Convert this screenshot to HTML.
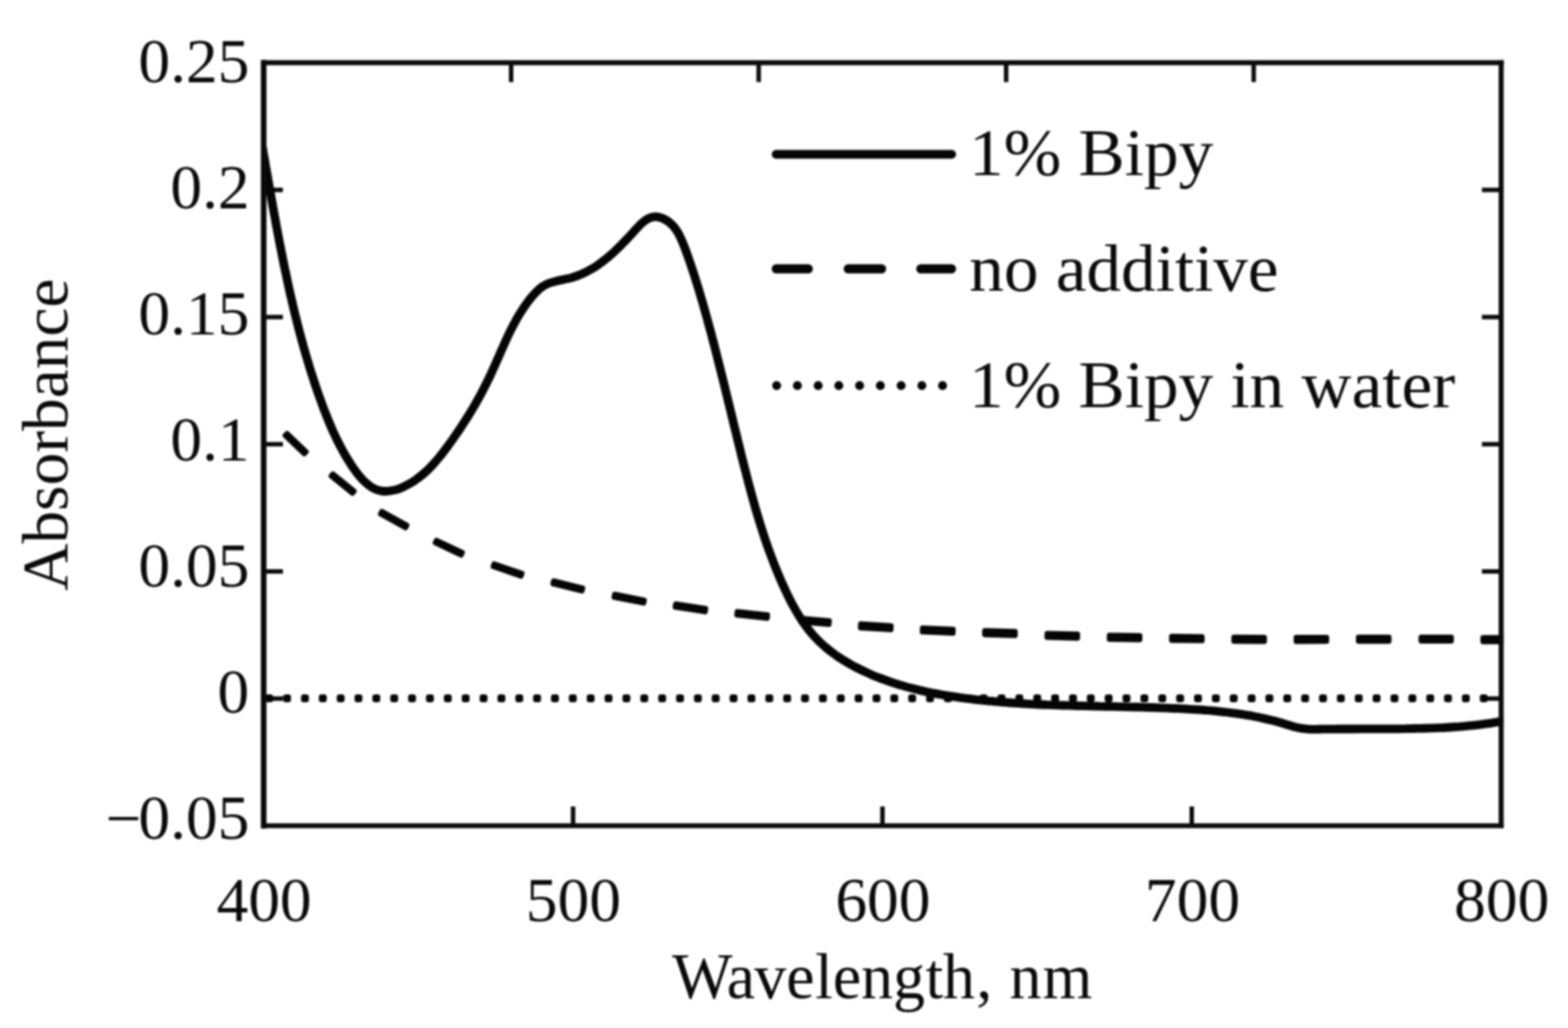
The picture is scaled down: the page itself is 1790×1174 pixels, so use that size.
<!DOCTYPE html>
<html lang="en"><head><meta charset="utf-8"><title>Absorbance vs Wavelength</title>
<style>
html,body{margin:0;padding:0;background:#fff;}
body{width:1790px;height:1174px;overflow:hidden;position:relative;}
svg{position:absolute;left:0;top:0;display:block;filter:blur(0.8px);}
text{font-family:"Liberation Serif","DejaVu Serif",serif;fill:#0a0a0a;}
.tk{font-size:72.4px;}
.wl{font-size:73px;}
.ab{font-size:74.7px;}
.lg{font-size:79px;}
</style></head><body>
<svg width="1790" height="1174" viewBox="0 0 1790 1174">
<rect x="0" y="0" width="1790" height="1174" fill="#ffffff"/>
<g stroke="#0a0a0a" stroke-width="5.1" fill="none">
<line x1="301.0" y1="216.9" x2="323.0" y2="216.9"/>
<line x1="1691.7" y1="216.9" x2="1713.7" y2="216.9"/>
<line x1="301.0" y1="362.1" x2="323.0" y2="362.1"/>
<line x1="1691.7" y1="362.1" x2="1713.7" y2="362.1"/>
<line x1="301.0" y1="507.3" x2="323.0" y2="507.3"/>
<line x1="1691.7" y1="507.3" x2="1713.7" y2="507.3"/>
<line x1="301.0" y1="652.6" x2="323.0" y2="652.6"/>
<line x1="1691.7" y1="652.6" x2="1713.7" y2="652.6"/>
<line x1="301.0" y1="797.8" x2="323.0" y2="797.8"/>
<line x1="1691.7" y1="797.8" x2="1713.7" y2="797.8"/>
<line x1="654.2" y1="921.0" x2="654.2" y2="943.0"/>
<line x1="1007.4" y1="921.0" x2="1007.4" y2="943.0"/>
<line x1="1360.5" y1="921.0" x2="1360.5" y2="943.0"/>
<line x1="583.5" y1="71.7" x2="583.5" y2="93.7"/>
<line x1="866.1" y1="71.7" x2="866.1" y2="93.7"/>
<line x1="1148.6" y1="71.7" x2="1148.6" y2="93.7"/>
<line x1="1431.2" y1="71.7" x2="1431.2" y2="93.7"/>
</g>
<clipPath id="pc"><rect x="298.5" y="0" width="1417.7" height="1174"/></clipPath>
<g clip-path="url(#pc)" fill="none" stroke="#050505" stroke-linecap="round" stroke-linejoin="round">
<g fill="#050505" stroke="none">
<rect x="302.8" y="793.0" width="9.0" height="9.0" rx="3"/>
<rect x="323.2" y="793.0" width="9.0" height="9.0" rx="3"/>
<rect x="343.6" y="793.0" width="9.0" height="9.0" rx="3"/>
<rect x="364.0" y="793.0" width="9.0" height="9.0" rx="3"/>
<rect x="384.4" y="793.0" width="9.0" height="9.0" rx="3"/>
<rect x="404.7" y="793.0" width="9.0" height="9.0" rx="3"/>
<rect x="425.1" y="793.0" width="9.0" height="9.0" rx="3"/>
<rect x="445.5" y="793.0" width="9.0" height="9.0" rx="3"/>
<rect x="465.9" y="793.0" width="9.0" height="9.0" rx="3"/>
<rect x="486.3" y="793.0" width="9.0" height="9.0" rx="3"/>
<rect x="506.7" y="793.0" width="9.0" height="9.0" rx="3"/>
<rect x="527.1" y="793.0" width="9.0" height="9.0" rx="3"/>
<rect x="547.5" y="793.0" width="9.0" height="9.0" rx="3"/>
<rect x="567.9" y="793.0" width="9.0" height="9.0" rx="3"/>
<rect x="588.3" y="793.0" width="9.0" height="9.0" rx="3"/>
<rect x="608.6" y="793.0" width="9.0" height="9.0" rx="3"/>
<rect x="629.0" y="793.0" width="9.0" height="9.0" rx="3"/>
<rect x="649.4" y="793.0" width="9.0" height="9.0" rx="3"/>
<rect x="669.8" y="793.0" width="9.0" height="9.0" rx="3"/>
<rect x="690.2" y="793.0" width="9.0" height="9.0" rx="3"/>
<rect x="710.6" y="793.0" width="9.0" height="9.0" rx="3"/>
<rect x="731.0" y="793.0" width="9.0" height="9.0" rx="3"/>
<rect x="751.4" y="793.0" width="9.0" height="9.0" rx="3"/>
<rect x="771.8" y="793.0" width="9.0" height="9.0" rx="3"/>
<rect x="792.2" y="793.0" width="9.0" height="9.0" rx="3"/>
<rect x="812.5" y="793.0" width="9.0" height="9.0" rx="3"/>
<rect x="832.9" y="793.0" width="9.0" height="9.0" rx="3"/>
<rect x="853.3" y="793.0" width="9.0" height="9.0" rx="3"/>
<rect x="873.7" y="793.0" width="9.0" height="9.0" rx="3"/>
<rect x="894.1" y="793.0" width="9.0" height="9.0" rx="3"/>
<rect x="914.5" y="793.0" width="9.0" height="9.0" rx="3"/>
<rect x="934.9" y="793.0" width="9.0" height="9.0" rx="3"/>
<rect x="955.3" y="793.0" width="9.0" height="9.0" rx="3"/>
<rect x="975.7" y="793.0" width="9.0" height="9.0" rx="3"/>
<rect x="996.1" y="793.0" width="9.0" height="9.0" rx="3"/>
<rect x="1016.4" y="793.0" width="9.0" height="9.0" rx="3"/>
<rect x="1036.8" y="793.0" width="9.0" height="9.0" rx="3"/>
<rect x="1057.2" y="793.0" width="9.0" height="9.0" rx="3"/>
<rect x="1077.6" y="793.0" width="9.0" height="9.0" rx="3"/>
<rect x="1098.0" y="793.0" width="9.0" height="9.0" rx="3"/>
<rect x="1118.4" y="793.0" width="9.0" height="9.0" rx="3"/>
<rect x="1138.8" y="793.0" width="9.0" height="9.0" rx="3"/>
<rect x="1159.2" y="793.0" width="9.0" height="9.0" rx="3"/>
<rect x="1179.6" y="793.0" width="9.0" height="9.0" rx="3"/>
<rect x="1200.0" y="793.0" width="9.0" height="9.0" rx="3"/>
<rect x="1220.4" y="793.0" width="9.0" height="9.0" rx="3"/>
<rect x="1240.7" y="793.0" width="9.0" height="9.0" rx="3"/>
<rect x="1261.1" y="793.0" width="9.0" height="9.0" rx="3"/>
<rect x="1281.5" y="793.0" width="9.0" height="9.0" rx="3"/>
<rect x="1301.9" y="793.0" width="9.0" height="9.0" rx="3"/>
<rect x="1322.3" y="793.0" width="9.0" height="9.0" rx="3"/>
<rect x="1342.7" y="793.0" width="9.0" height="9.0" rx="3"/>
<rect x="1363.1" y="793.0" width="9.0" height="9.0" rx="3"/>
<rect x="1383.5" y="793.0" width="9.0" height="9.0" rx="3"/>
<rect x="1403.9" y="793.0" width="9.0" height="9.0" rx="3"/>
<rect x="1424.3" y="793.0" width="9.0" height="9.0" rx="3"/>
<rect x="1444.6" y="793.0" width="9.0" height="9.0" rx="3"/>
<rect x="1465.0" y="793.0" width="9.0" height="9.0" rx="3"/>
<rect x="1485.4" y="793.0" width="9.0" height="9.0" rx="3"/>
<rect x="1505.8" y="793.0" width="9.0" height="9.0" rx="3"/>
<rect x="1526.2" y="793.0" width="9.0" height="9.0" rx="3"/>
<rect x="1546.6" y="793.0" width="9.0" height="9.0" rx="3"/>
<rect x="1567.0" y="793.0" width="9.0" height="9.0" rx="3"/>
<rect x="1587.4" y="793.0" width="9.0" height="9.0" rx="3"/>
<rect x="1607.8" y="793.0" width="9.0" height="9.0" rx="3"/>
<rect x="1628.2" y="793.0" width="9.0" height="9.0" rx="3"/>
<rect x="1648.5" y="793.0" width="9.0" height="9.0" rx="3"/>
<rect x="1668.9" y="793.0" width="9.0" height="9.0" rx="3"/>
<rect x="1689.3" y="793.0" width="9.0" height="9.0" rx="3"/>
</g>
<g fill="#050505" stroke="none">
<rect x="319.5" y="502.2" width="36.0" height="9.0" rx="3" transform="rotate(43.70 337.5 506.7)"/>
<rect x="372.7" y="547.7" width="37.0" height="9.0" rx="3" transform="rotate(38.82 391.2 552.2)"/>
<rect x="430.2" y="588.9" width="38.5" height="9.0" rx="3" transform="rotate(28.84 449.5 593.4)"/>
<rect x="493.1" y="621.0" width="38.5" height="9.0" rx="3" transform="rotate(25.25 512.4 625.5)"/>
<rect x="559.7" y="646.4" width="39.5" height="9.1" rx="3" transform="rotate(18.91 579.5 650.9)"/>
<rect x="628.2" y="664.5" width="40.0" height="9.2" rx="3" transform="rotate(13.92 648.2 669.1)"/>
<rect x="698.1" y="679.0" width="40.3" height="9.4" rx="3" transform="rotate(11.10 718.2 683.7)"/>
<rect x="768.0" y="689.4" width="40.5" height="9.6" rx="3" transform="rotate(8.76 788.2 694.1)"/>
<rect x="838.4" y="697.3" width="40.6" height="9.9" rx="3" transform="rotate(6.03 858.7 702.2)"/>
<rect x="911.5" y="704.5" width="38.0" height="10.1" rx="3" transform="rotate(4.99 930.5 709.5)"/>
<rect x="979.5" y="710.6" width="40.6" height="10.4" rx="3" transform="rotate(3.38 999.8 715.8)"/>
<rect x="1050.1" y="714.9" width="40.8" height="10.4" rx="3" transform="rotate(2.38 1070.5 720.1)"/>
<rect x="1121.2" y="717.8" width="40.6" height="10.4" rx="3" transform="rotate(1.70 1141.5 723.0)"/>
<rect x="1192.4" y="720.9" width="40.6" height="10.4" rx="3" transform="rotate(1.41 1212.7 726.1)"/>
<rect x="1263.5" y="722.8" width="40.6" height="10.4" rx="3" transform="rotate(0.99 1283.8 728.0)"/>
<rect x="1334.6" y="724.0" width="40.6" height="10.4" rx="3" transform="rotate(0.71 1354.9 729.2)"/>
<rect x="1405.7" y="724.9" width="40.6" height="10.4" rx="3" transform="rotate(0.42 1426.0 730.1)"/>
<rect x="1476.8" y="725.0" width="40.6" height="10.4" rx="3" transform="rotate(-0.28 1497.1 730.2)"/>
<rect x="1547.9" y="724.8" width="40.6" height="10.4" rx="3" transform="rotate(0.00 1568.2 730.0)"/>
<rect x="1619.4" y="724.7" width="40.3" height="10.4" rx="3" transform="rotate(0.00 1639.6 729.9)"/>
<rect x="1690.0" y="725.3" width="32.0" height="10.4" rx="3" transform="rotate(0.00 1706.0 730.5)"/>
</g>
<path d="M299.0 165.2 C299.2 166.6 300.0 170.8 300.5 173.6 C301.0 176.3 301.5 179.1 302.0 181.9 C302.5 184.7 303.0 187.5 303.4 190.3 C303.9 193.1 304.4 195.9 304.9 198.7 C305.4 201.5 305.9 204.3 306.4 207.1 C306.9 209.9 307.4 212.8 307.9 215.6 C308.4 218.4 308.9 221.2 309.4 224.0 C309.9 226.8 310.4 229.6 310.9 232.4 C311.4 235.3 311.9 238.1 312.4 240.9 C312.9 243.7 313.5 246.5 314.0 249.4 C314.5 252.2 315.0 255.0 315.5 257.8 C316.1 260.6 316.6 263.4 317.1 266.3 C317.7 269.1 318.2 271.9 318.7 274.7 C319.3 277.5 319.8 280.4 320.4 283.2 C320.9 286.0 321.5 288.8 322.0 291.6 C322.6 294.4 323.2 297.3 323.7 300.1 C324.3 302.9 324.9 305.7 325.5 308.5 C326.1 311.3 326.7 314.1 327.3 316.9 C327.9 319.7 328.5 322.6 329.1 325.4 C329.7 328.2 330.3 331.0 330.9 333.8 C331.6 336.6 332.2 339.4 332.9 342.1 C333.5 344.9 334.1 347.7 334.8 350.5 C335.5 353.3 336.1 356.1 336.8 358.9 C337.5 361.7 338.2 364.4 338.9 367.2 C339.6 370.0 340.3 372.8 341.0 375.5 C341.7 378.3 342.5 381.1 343.2 383.8 C343.9 386.6 344.7 389.3 345.5 392.1 C346.2 394.9 347.0 397.6 347.8 400.3 C348.6 403.1 349.3 405.8 350.2 408.6 C351.0 411.3 351.8 414.0 352.6 416.7 C353.4 419.5 354.3 422.2 355.1 424.9 C356.0 427.6 356.9 430.3 357.8 433.0 C358.6 435.7 359.5 438.4 360.4 441.1 C361.4 443.8 362.3 446.5 363.2 449.2 C364.1 451.8 365.1 454.5 366.1 457.2 C367.0 459.9 368.0 462.5 369.0 465.2 C370.0 467.8 371.0 470.5 372.1 473.1 C373.1 475.7 374.2 478.4 375.2 481.0 C376.3 483.6 377.4 486.2 378.6 488.9 C379.7 491.5 380.9 494.1 382.1 496.7 C383.3 499.3 384.6 501.9 385.9 504.5 C387.2 507.1 388.5 509.6 389.9 512.2 C391.3 514.8 392.7 517.4 394.2 520.0 C395.7 522.5 397.3 525.1 398.9 527.6 C400.5 530.2 402.1 532.8 403.8 535.2 C405.6 537.7 407.4 540.2 409.2 542.4 C411.1 544.7 413.0 546.9 415.0 548.9 C417.0 550.9 419.1 552.8 421.3 554.3 C423.4 555.9 425.7 557.3 428.0 558.4 C430.4 559.4 432.8 560.2 435.3 560.6 C437.9 561.1 440.5 561.1 443.2 560.9 C445.8 560.7 448.6 560.2 451.4 559.4 C454.1 558.7 456.9 557.6 459.6 556.4 C462.4 555.2 465.1 553.8 467.8 552.3 C470.4 550.8 473.0 549.1 475.4 547.3 C477.9 545.6 480.2 543.8 482.5 541.9 C484.7 540.0 486.9 538.0 488.9 536.1 C491.0 534.1 492.9 532.0 494.8 529.9 C496.7 527.8 498.5 525.7 500.3 523.5 C502.1 521.3 503.9 519.1 505.6 516.9 C507.3 514.7 509.0 512.4 510.7 510.2 C512.3 507.9 514.0 505.6 515.7 503.3 C517.3 501.0 518.9 498.7 520.6 496.3 C522.2 494.0 523.8 491.7 525.4 489.3 C526.9 486.9 528.5 484.5 530.0 482.1 C531.6 479.7 533.1 477.3 534.6 474.9 C536.1 472.4 537.6 470.0 539.1 467.5 C540.5 465.1 542.0 462.6 543.4 460.1 C544.8 457.6 546.2 455.1 547.6 452.6 C549.0 450.1 550.3 447.5 551.6 445.0 C553.0 442.4 554.3 439.9 555.6 437.3 C556.8 434.7 558.1 432.2 559.3 429.6 C560.6 427.0 561.8 424.4 562.9 421.7 C564.1 419.1 565.3 416.5 566.4 413.9 C567.6 411.2 568.7 408.6 569.9 406.0 C571.0 403.4 572.2 400.7 573.3 398.1 C574.5 395.5 575.7 392.9 576.8 390.3 C578.0 387.7 579.2 385.1 580.4 382.5 C581.7 379.9 582.9 377.4 584.2 374.8 C585.5 372.3 586.8 369.8 588.2 367.3 C589.5 364.8 590.9 362.3 592.4 359.9 C593.9 357.4 595.4 355.0 597.0 352.7 C598.5 350.3 600.2 347.9 601.9 345.6 C603.6 343.3 605.3 341.0 607.2 338.9 C609.1 336.7 611.0 334.5 613.1 332.5 C615.1 330.6 617.3 328.7 619.6 327.1 C621.9 325.6 624.4 324.3 627.0 323.3 C629.6 322.3 632.4 321.6 635.2 320.9 C638.0 320.2 640.9 319.7 643.8 319.1 C646.6 318.5 649.5 317.9 652.3 317.2 C655.1 316.4 657.9 315.5 660.6 314.4 C663.3 313.4 665.9 312.2 668.5 310.9 C671.0 309.6 673.5 308.2 676.0 306.8 C678.4 305.3 680.8 303.8 683.1 302.2 C685.4 300.5 687.7 298.9 689.9 297.2 C692.1 295.4 694.3 293.7 696.4 291.8 C698.5 290.0 700.6 288.1 702.6 286.2 C704.7 284.3 706.7 282.3 708.7 280.3 C710.7 278.2 712.7 276.2 714.8 274.0 C716.8 271.9 718.8 269.7 720.8 267.5 C722.8 265.3 724.9 262.9 727.0 260.7 C729.1 258.5 731.2 256.1 733.4 254.3 C735.6 252.4 737.9 250.6 740.3 249.5 C742.7 248.3 745.2 247.5 747.8 247.5 C750.5 247.4 753.4 248.2 756.0 249.1 C758.5 250.1 761.0 251.6 763.2 253.2 C765.4 254.8 767.3 256.7 769.1 258.8 C770.9 260.9 772.4 263.2 773.9 265.6 C775.3 268.1 776.6 270.7 777.8 273.4 C779.0 276.0 780.1 278.8 781.2 281.6 C782.3 284.4 783.3 287.2 784.3 290.0 C785.3 292.8 786.2 295.5 787.2 298.3 C788.1 301.1 789.1 303.8 790.0 306.6 C790.9 309.3 791.8 312.0 792.7 314.8 C793.6 317.5 794.4 320.2 795.3 323.0 C796.1 325.7 797.0 328.4 797.8 331.1 C798.6 333.8 799.4 336.5 800.2 339.3 C801.0 342.0 801.8 344.7 802.6 347.4 C803.4 350.1 804.1 352.8 804.9 355.6 C805.7 358.3 806.4 361.0 807.2 363.8 C807.9 366.5 808.7 369.2 809.4 372.0 C810.2 374.7 810.9 377.5 811.7 380.2 C812.4 383.0 813.1 385.7 813.8 388.5 C814.6 391.2 815.3 394.0 816.0 396.7 C816.7 399.5 817.4 402.3 818.1 405.0 C818.8 407.8 819.5 410.6 820.2 413.3 C820.9 416.1 821.6 418.9 822.3 421.7 C823.0 424.4 823.7 427.2 824.4 430.0 C825.1 432.8 825.8 435.6 826.5 438.4 C827.2 441.1 827.8 443.9 828.5 446.7 C829.2 449.5 829.9 452.3 830.6 455.1 C831.2 457.9 831.9 460.6 832.6 463.4 C833.3 466.2 834.0 469.0 834.6 471.8 C835.3 474.6 836.0 477.4 836.7 480.2 C837.3 483.0 838.0 485.7 838.7 488.5 C839.4 491.3 840.1 494.1 840.8 496.9 C841.4 499.7 842.1 502.5 842.8 505.3 C843.5 508.0 844.2 510.8 844.9 513.6 C845.6 516.4 846.2 519.2 846.9 522.0 C847.6 524.7 848.3 527.5 849.0 530.3 C849.7 533.1 850.4 535.8 851.2 538.6 C851.9 541.4 852.6 544.2 853.3 546.9 C854.0 549.7 854.7 552.5 855.5 555.2 C856.2 558.0 857.0 560.7 857.7 563.5 C858.5 566.3 859.2 569.0 860.0 571.8 C860.7 574.5 861.5 577.3 862.3 580.0 C863.1 582.7 863.9 585.5 864.7 588.2 C865.5 590.9 866.4 593.7 867.2 596.4 C868.0 599.1 868.9 601.8 869.8 604.6 C870.6 607.3 871.5 610.0 872.4 612.7 C873.3 615.4 874.2 618.1 875.1 620.8 C876.1 623.5 877.0 626.2 878.0 628.9 C879.0 631.5 880.0 634.2 881.0 636.9 C882.0 639.6 883.0 642.2 884.0 644.9 C885.1 647.5 886.2 650.2 887.2 652.8 C888.3 655.5 889.5 658.1 890.6 660.8 C891.7 663.4 892.9 666.0 894.1 668.6 C895.3 671.3 896.5 673.9 897.7 676.5 C898.9 679.1 900.2 681.7 901.5 684.2 C902.8 686.8 904.1 689.4 905.5 691.9 C906.9 694.4 908.3 696.9 909.8 699.4 C911.2 701.9 912.7 704.3 914.3 706.7 C915.8 709.1 917.5 711.5 919.1 713.8 C920.8 716.1 922.5 718.4 924.3 720.6 C926.1 722.8 927.9 725.0 929.8 727.0 C931.7 729.1 933.7 731.2 935.8 733.1 C937.8 735.1 939.9 737.0 942.1 738.9 C944.3 740.7 946.5 742.5 948.8 744.2 C951.0 746.0 953.4 747.6 955.7 749.3 C958.1 750.9 960.5 752.5 963.0 754.0 C965.4 755.5 967.9 757.0 970.4 758.4 C972.9 759.8 975.4 761.2 978.0 762.5 C980.5 763.8 983.1 765.1 985.7 766.3 C988.3 767.5 990.9 768.7 993.5 769.9 C996.1 771.0 998.7 772.1 1001.4 773.2 C1004.0 774.2 1006.7 775.3 1009.4 776.2 C1012.1 777.2 1014.8 778.2 1017.5 779.1 C1020.2 780.0 1022.9 780.9 1025.6 781.7 C1028.3 782.5 1031.1 783.3 1033.8 784.1 C1036.6 784.9 1039.3 785.6 1042.1 786.3 C1044.9 787.0 1047.7 787.7 1050.5 788.4 C1053.2 789.0 1056.0 789.6 1058.8 790.2 C1061.6 790.8 1064.5 791.4 1067.3 791.9 C1070.1 792.5 1072.9 793.0 1075.7 793.5 C1078.6 794.0 1081.4 794.4 1084.2 794.9 C1087.1 795.3 1089.9 795.8 1092.7 796.2 C1095.6 796.6 1098.4 797.0 1101.3 797.4 C1104.1 797.7 1106.9 798.1 1109.8 798.4 C1112.6 798.8 1115.5 799.1 1118.3 799.4 C1121.2 799.7 1124.0 800.0 1126.9 800.3 C1129.7 800.6 1132.6 800.8 1135.4 801.1 C1138.3 801.4 1141.1 801.6 1143.9 801.8 C1146.8 802.1 1149.6 802.3 1152.5 802.5 C1155.3 802.7 1158.2 802.9 1161.1 803.1 C1163.9 803.3 1166.8 803.4 1169.6 803.6 C1172.5 803.8 1175.3 803.9 1178.2 804.1 C1181.0 804.2 1183.9 804.4 1186.7 804.5 C1189.6 804.6 1192.4 804.7 1195.3 804.9 C1198.1 805.0 1201.0 805.1 1203.9 805.2 C1206.7 805.3 1209.6 805.4 1212.4 805.5 C1215.3 805.6 1218.1 805.7 1221.0 805.7 C1223.9 805.8 1226.7 805.9 1229.6 806.0 C1232.4 806.1 1235.3 806.1 1238.1 806.2 C1241.0 806.3 1243.9 806.3 1246.7 806.4 C1249.6 806.5 1252.4 806.5 1255.3 806.6 C1258.2 806.6 1261.0 806.7 1263.9 806.8 C1266.7 806.8 1269.6 806.9 1272.5 806.9 C1275.3 807.0 1278.2 807.1 1281.0 807.1 C1283.9 807.2 1286.8 807.3 1289.6 807.3 C1292.5 807.4 1295.3 807.5 1298.2 807.5 C1301.1 807.6 1303.9 807.7 1306.8 807.8 C1309.7 807.8 1312.5 807.9 1315.4 808.0 C1318.2 808.1 1321.1 808.2 1324.0 808.3 C1326.8 808.4 1329.7 808.5 1332.6 808.6 C1335.4 808.8 1338.3 808.9 1341.1 809.0 C1344.0 809.1 1346.9 809.3 1349.7 809.4 C1352.6 809.6 1355.5 809.7 1358.3 809.9 C1361.2 810.0 1364.0 810.2 1366.9 810.4 C1369.8 810.6 1372.6 810.8 1375.5 811.0 C1378.3 811.3 1381.2 811.5 1384.0 811.7 C1386.9 812.0 1389.7 812.3 1392.6 812.6 C1395.4 812.9 1398.3 813.2 1401.1 813.5 C1403.9 813.9 1406.8 814.2 1409.6 814.6 C1412.4 815.0 1415.3 815.4 1418.1 815.8 C1420.9 816.3 1423.7 816.7 1426.6 817.2 C1429.4 817.7 1432.2 818.3 1435.0 818.8 C1437.8 819.4 1440.6 820.0 1443.4 820.6 C1446.2 821.2 1448.9 821.9 1451.7 822.6 C1454.5 823.3 1457.3 824.0 1460.0 824.8 C1462.8 825.6 1465.5 826.4 1468.3 827.3 C1471.0 828.1 1473.8 828.9 1476.5 829.7 C1479.3 830.4 1482.1 831.1 1484.9 831.6 C1487.7 832.1 1490.5 832.4 1493.3 832.6 C1496.1 832.8 1499.0 832.8 1501.9 832.8 C1504.7 832.8 1507.6 832.7 1510.5 832.7 C1513.3 832.6 1516.2 832.6 1519.1 832.6 C1521.9 832.6 1524.8 832.5 1527.7 832.5 C1530.5 832.5 1533.4 832.5 1536.3 832.5 C1539.1 832.5 1542.0 832.5 1544.8 832.5 C1547.7 832.5 1550.6 832.5 1553.4 832.4 C1556.3 832.4 1559.1 832.4 1562.0 832.4 C1564.9 832.4 1567.7 832.4 1570.6 832.4 C1573.4 832.4 1576.3 832.4 1579.2 832.4 C1582.0 832.4 1584.9 832.4 1587.7 832.3 C1590.6 832.3 1593.5 832.3 1596.3 832.3 C1599.2 832.2 1602.0 832.2 1604.9 832.2 C1607.8 832.1 1610.6 832.1 1613.5 832.0 C1616.3 832.0 1619.2 831.9 1622.1 831.9 C1624.9 831.8 1627.8 831.7 1630.6 831.6 C1633.5 831.5 1636.4 831.4 1639.2 831.3 C1642.1 831.2 1645.0 831.1 1647.8 831.0 C1650.7 830.8 1653.5 830.7 1656.4 830.5 C1659.2 830.3 1662.1 830.1 1665.0 829.9 C1667.8 829.7 1670.7 829.4 1673.5 829.2 C1676.4 828.9 1679.2 828.6 1682.0 828.3 C1684.9 828.0 1687.7 827.7 1690.6 827.3 C1693.4 827.0 1696.2 826.6 1699.1 826.2 C1701.9 825.8 1704.7 825.3 1707.5 824.9 C1710.4 824.4 1714.6 823.6 1716.0 823.3" stroke-width="9.8"/>
</g>
<g stroke="#0a0a0a" fill="none" stroke-linecap="square">
<line x1="301.0" y1="71.7" x2="301.0" y2="943.0" stroke-width="6.4"/>
<line x1="1713.7" y1="71.7" x2="1713.7" y2="943.0" stroke-width="5.7"/>
<line x1="301.0" y1="71.7" x2="1713.7" y2="71.7" stroke-width="5.8"/>
<line x1="301.0" y1="943.0" x2="1713.7" y2="943.0" stroke-width="5.3"/>
</g>
<g fill="none" stroke="#050505" stroke-linecap="round">
<line x1="886" y1="176.2" x2="1086.4" y2="176.2" stroke-width="10"/>
<line x1="886.2" y1="307" x2="922.7" y2="307" stroke-width="10.5"/>
<line x1="968.4" y1="307" x2="1006.4" y2="307" stroke-width="10.5"/>
<line x1="1051.2" y1="307" x2="1086.2" y2="307" stroke-width="10.5"/>
</g><g fill="#050505">
<circle cx="886.6" cy="440.3" r="5.1"/>
<circle cx="910.3" cy="440.3" r="5.1"/>
<circle cx="934.0" cy="440.3" r="5.1"/>
<circle cx="957.6" cy="440.3" r="5.1"/>
<circle cx="981.3" cy="440.3" r="5.1"/>
<circle cx="1005.0" cy="440.3" r="5.1"/>
<circle cx="1028.7" cy="440.3" r="5.1"/>
<circle cx="1052.4" cy="440.3" r="5.1"/>
<circle cx="1076.0" cy="440.3" r="5.1"/>
</g>
<text class="tk" x="0" y="0" transform="translate(158.00 94.15)" text-anchor="start">0.25</text>
<text class="tk" x="0" y="0" transform="translate(194.50 238.05)" text-anchor="start">0.2</text>
<text class="tk" x="0" y="0" transform="translate(158.00 381.95)" text-anchor="start">0.15</text>
<text class="tk" x="0" y="0" transform="translate(194.50 525.85)" text-anchor="start">0.1</text>
<text class="tk" x="0" y="0" transform="translate(158.00 669.75)" text-anchor="start">0.05</text>
<text class="tk" x="0" y="0" transform="translate(248.35 813.65)" text-anchor="start">0</text>
<text class="tk" x="0.00 37.30" y="0" dy="1.80 -1.80" transform="translate(120.70 957.55)" text-anchor="start">−0.05</text>
<text class="tk" x="0" y="0" transform="translate(301.50 1052.00)" text-anchor="middle">400</text>
<text class="tk" x="0" y="0" transform="translate(654.65 1052.00)" text-anchor="middle">500</text>
<text class="tk" x="0" y="0" transform="translate(1007.95 1052.00)" text-anchor="middle">600</text>
<text class="tk" x="0" y="0" transform="translate(1361.30 1052.00)" text-anchor="middle">700</text>
<text class="tk" x="0" y="0" transform="translate(1714.35 1052.00)" text-anchor="middle">800</text>
<text class="wl" x="767.20 829.50 860.90 897.60 930.40 950.70 982.90 1019.60 1056.40 1076.60 1114.40 1132.80 1152.60 1190.30" y="0" transform="translate(0.00 1140.10)" text-anchor="start">Wavelength, nm</text>
<text class="ab" x="0" y="0" transform="translate(77.00 674.70) rotate(-90)" text-anchor="start">Absorbance</text>
<text class="lg" x="0" y="0" transform="translate(1106.30 199.75) scale(1.0000 0.9750)" text-anchor="start">1% Bipy</text>
<text class="lg" x="0" y="0" transform="translate(1106.50 332.00) scale(1.0000 0.9750)" text-anchor="start">no additive</text>
<text class="lg" x="0" y="0" transform="translate(1106.30 464.80) scale(1.0000 0.9750)" text-anchor="start">1% Bipy in water</text>
</svg></body></html>
